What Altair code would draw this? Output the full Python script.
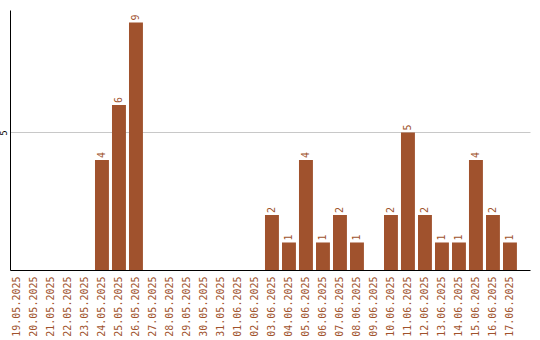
import altair as alt
import pandas as pd

dates = ["19.05.2025", "20.05.2025", "21.05.2025", "22.05.2025", "23.05.2025",
         "24.05.2025", "25.05.2025", "26.05.2025", "27.05.2025", "28.05.2025",
         "29.05.2025", "30.05.2025", "31.05.2025", "01.06.2025", "02.06.2025",
         "03.06.2025", "04.06.2025", "05.06.2025", "06.06.2025", "07.06.2025",
         "08.06.2025", "09.06.2025", "10.06.2025", "11.06.2025", "12.06.2025",
         "13.06.2025", "14.06.2025", "15.06.2025", "16.06.2025", "17.06.2025"]
counts = [0, 0, 0, 0, 0,
          4, 6, 9, 0, 0,
          0, 0, 0, 0, 0,
          2, 1, 4, 1, 2,
          1, 0, 2, 5, 2,
          1, 1, 4, 2, 1]
y_ticks = [5]

df = pd.DataFrame({"date": dates, "count": counts})
color = "#A0522D"

x = alt.X("date:N", sort=dates, title=None,
          scale=alt.Scale(paddingInner=0.18, paddingOuter=0.385, align=0),
          axis=alt.Axis(labelAngle=-90, labelFont="DejaVu Sans Mono", labelFontSize=10,
                        labelColor=color, ticks=False, labelPadding=6,
                        domainColor="black", domainWidth=1, grid=False))
y = alt.Y("count:Q", title=None,
          scale=alt.Scale(domain=[0, 9.45], nice=False),
          axis=alt.Axis(values=y_ticks, labelAngle=-90, labelAlign="center",
                        labelBaseline="bottom", labelFontSize=8, labelColor="black",
                        labelFont="DejaVu Sans", ticks=False, labelPadding=2,
                        domainColor="black", grid=True, gridColor="#c8c8c8"))

bars = alt.Chart(df).mark_bar(color=color).encode(x=x, y=y)
labels = alt.Chart(df).transform_filter("datum.count > 0").mark_text(
    angle=270, align="left", baseline="middle", dx=2, color=color,
    font="DejaVu Sans Mono", fontSize=10
).encode(x=alt.X("date:N", sort=dates), y="count:Q", text="count:Q")

chart = (bars + labels).properties(
    width=520, height=260,
    autosize=alt.AutoSizeParams(type="none"),
    padding={"left": 10, "top": 10, "right": 10, "bottom": 70},
).configure(background="white").configure_view(stroke=None, strokeWidth=0)

chart.save("out.html", embed_options={"renderer": "svg", "actions": False})
